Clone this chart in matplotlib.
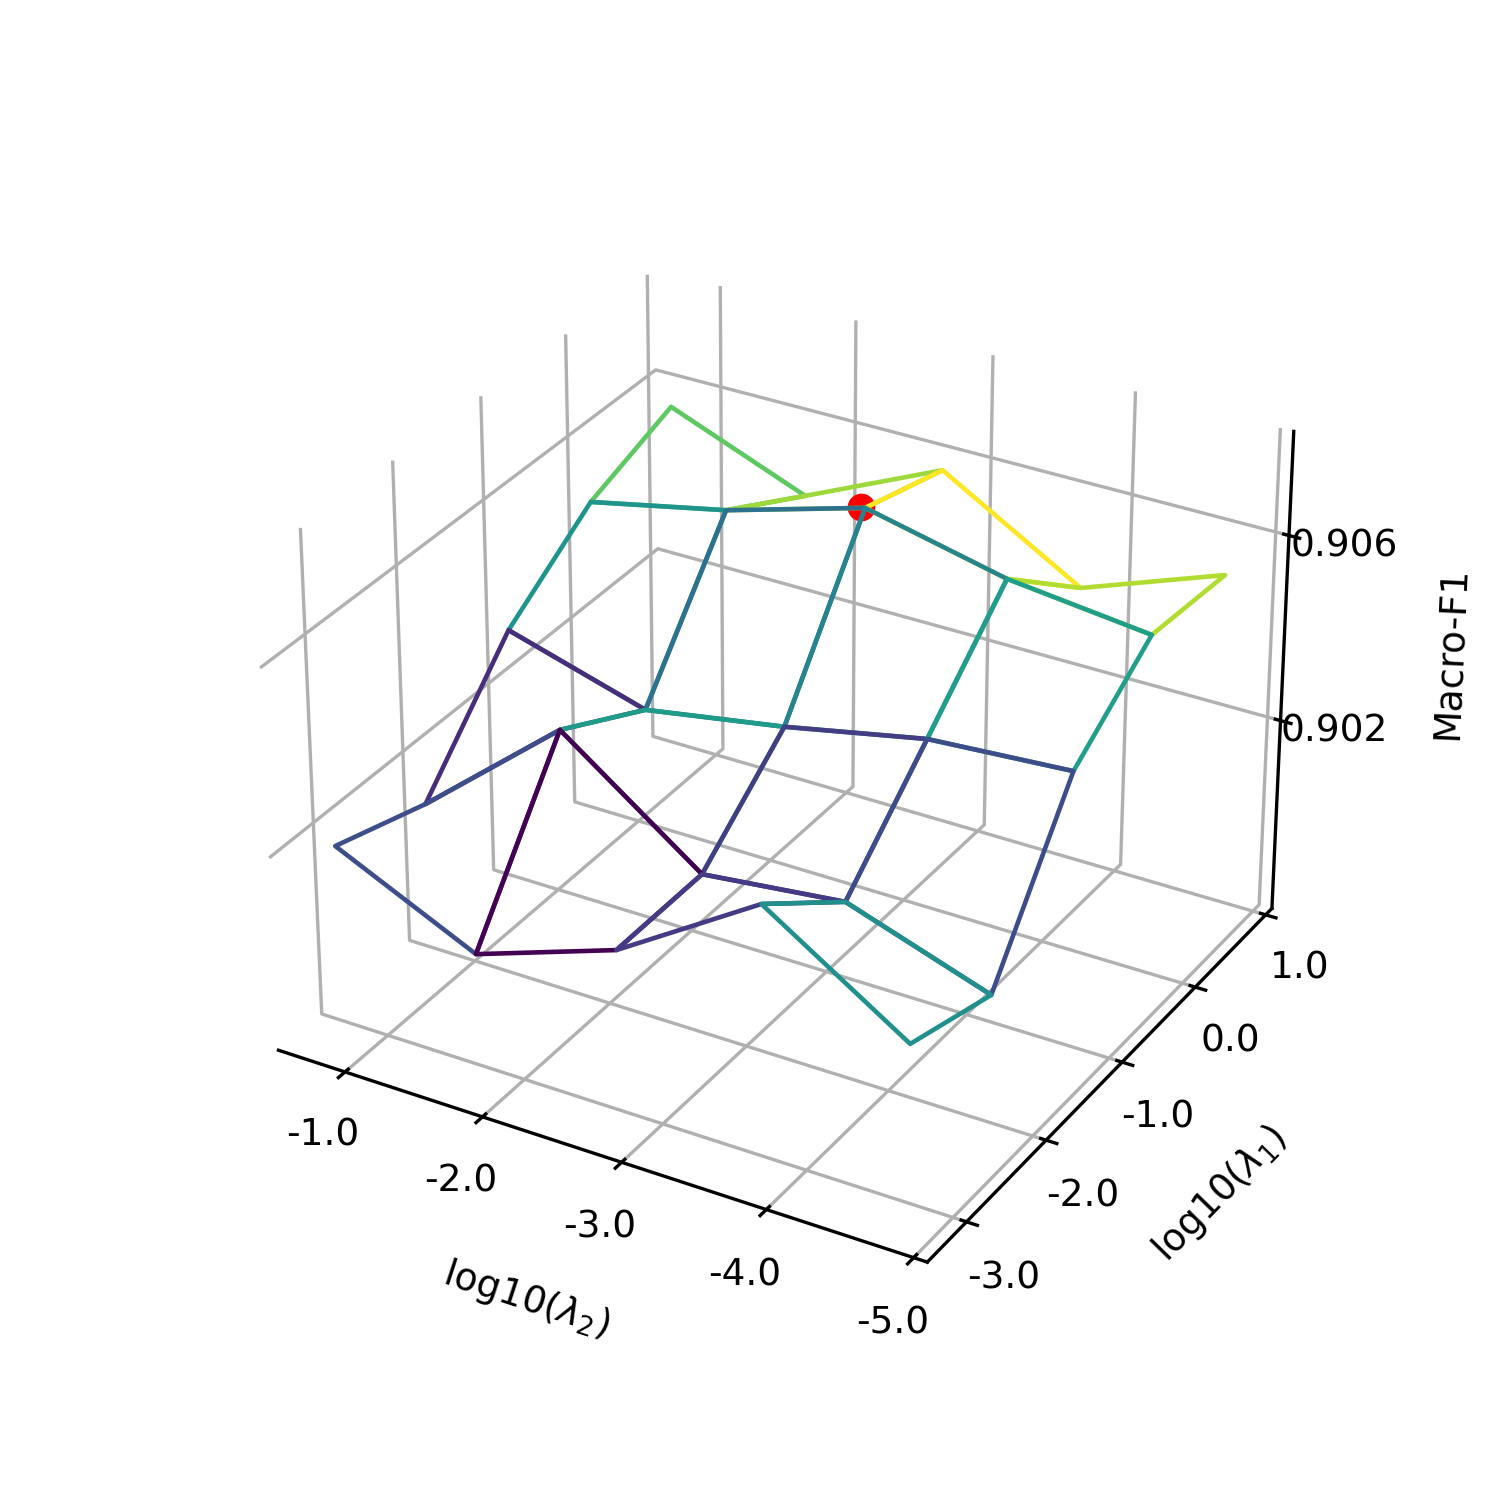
import numpy as np
import matplotlib
matplotlib.use('Agg')
import matplotlib.pyplot as plt
from matplotlib.colors import Normalize

# grid positions of the sampled hyper-parameters on the axes
lam2_pos = [0.18, 1.09, 2.0, 2.91, 3.82]
lam1_pos = [0.18, 1.09, 2.0, 2.91, 3.82]

# tick positions and labels
x_ticks = [0.365, 1.275, 2.175, 3.09, 4.0]
y_ticks = [0.355, 1.27, 2.18, 3.09, 4.0]
x_labels = ['-1.0', '-2.0', '-3.0', '-4.0', '-5.0']
y_labels = ['-3.0', '-2.0', '-1.0', '0.0', '1.0']
z_ticks = [0.902, 0.906]

# Macro-F1, one row per lambda_1 value
f1_row0 = [0.90206, 0.90066, 0.90169, 0.90359, 0.90163]
f1_row1 = [0.90141, 0.90389, 0.90170, 0.90203, 0.90099]
f1_row2 = [0.90370, 0.90282, 0.90332, 0.90393, 0.90413]
f1_row3 = [0.90507, 0.90569, 0.90654, 0.90585, 0.90550]
f1_row4 = [0.90579, 0.90462, 0.90597, 0.90423, 0.90533]

best_x = 1.97
best_y = 2.91
best_z = 0.90654

Z = np.array([f1_row0, f1_row1, f1_row2, f1_row3, f1_row4])
X, Y = np.meshgrid(lam2_pos, lam1_pos)

fig = plt.figure(figsize=(5, 5), dpi=300)
ax = fig.add_subplot(projection='3d')
ax.computed_zorder = False
for axis in (ax.xaxis, ax.yaxis, ax.zaxis):
    axis.pane.fill = False
    axis.pane.set_edgecolor('none')

colors = plt.get_cmap('viridis')(Normalize(Z.min(), Z.max())(Z))
surf = ax.plot_surface(X, Y, Z, rcount=5, ccount=5, facecolors=colors,
                       shade=False, linewidth=1.1, zorder=3)
surf.set_facecolor((0, 0, 0, 0))
ax.scatter([best_x], [best_y], [best_z], c='red', s=32, zorder=2, depthshade=False)

ax.set_xlim(-0.083, 4.083)
ax.set_ylim(-0.083, 4.083)
ax.set_zlim(0.8978, 0.90819)
ax.set_xticks(x_ticks)
ax.set_xticklabels(x_labels)
ax.set_yticks(y_ticks)
ax.set_yticklabels(y_labels)
ax.set_zticks(z_ticks)
ax.set_xlabel('log10($\\lambda_2$)', fontsize=9)
ax.set_ylabel('log10($\\lambda_1$)', fontsize=9)
ax.set_zlabel('Macro-F1', fontsize=9)
ax.tick_params(labelsize=9, pad=0.0)

fig.savefig('out.png', dpi=300)
